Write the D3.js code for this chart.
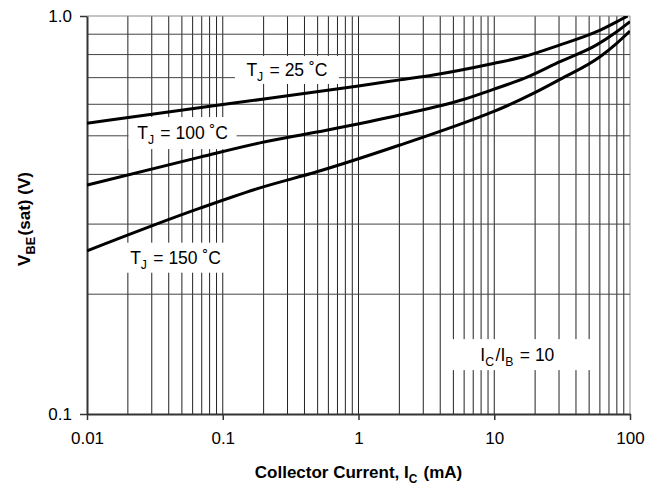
<!DOCTYPE html>
<html>
<head>
<meta charset="utf-8">
<script src="https://cdn.jsdelivr.net/npm/d3@7"></script>
<style>
  html, body { margin: 0; padding: 0; background: #fff; }
  svg { display: block; font-family: "Liberation Sans", Arial, sans-serif; }
</style>
</head>
<body>
<div id="chart"></div>
<script>
// VBE(sat) vs collector current, three junction temperatures

const xTickValues = [0.01, 0.1, 1, 10, 100];
const xTickLabels = ['0.01', '0.1', '1', '10', '100'];
const yTickValues = [0.1, 1.0];
const yTickLabels = ['0.1', '1.0'];

const current25 = [0.01, 0.1, 1, 2.02, 3.56, 9.84, 16.4, 30.5, 56.8, 84.4, 96];
const vbe25 = [0.538, 0.599, 0.667, 0.691, 0.711, 0.760, 0.790, 0.846, 0.913, 0.977, 1.0];

const current100 = [0.01, 0.068, 0.188, 0.494, 2.02, 5.92, 9.84, 17.3, 30.5, 56.8, 79.8, 100];
const vbe100 = [0.376, 0.442, 0.480, 0.511, 0.564, 0.617, 0.654, 0.701, 0.768, 0.846, 0.913, 0.968];

const current150 = [0.01, 0.068, 0.188, 0.494, 2.02, 7.85, 9.84, 19.4, 30.5, 60.1, 79.8, 100];
const vbe150 = [0.257, 0.329, 0.370, 0.406, 0.474, 0.558, 0.575, 0.639, 0.693, 0.790, 0.854, 0.917];

// annotation anchors in data units (mA, V)
const labelNames = ['25', '100', '150', 'ratio'];
const labelCurrent = [0.297, 0.0506, 0.0449, 14.8];
const labelVolt = [0.732, 0.508, 0.247, 0.141];

const W = 662, H = 493;
const margin = { top: 16, right: 32, bottom: 79, left: 87 };
const width = W - margin.left - margin.right;
const height = H - margin.top - margin.bottom;

const svg = d3.select('#chart').append('svg')
  .attr('width', W)
  .attr('height', H);

const g = svg.append('g')
  .attr('transform', `translate(${margin.left},${margin.top})`);

const x = d3.scaleLog().domain([0.01, 100]).range([0, width]);
const y = d3.scaleLog().domain([0.1, 1.0]).range([height, 0]);

// grid: minor decades 2..9
const xGrid = [];
[0.01, 0.1, 1, 10].forEach(dec => {
  for (let k = 1; k <= 9; k++) if (dec * k > 0.01) xGrid.push(dec * k);
});
xGrid.push(100);
const yGrid = d3.range(2, 11).map(k => k / 10);

g.append('g').selectAll('line')
  .data(xGrid)
  .enter().append('line')
  .attr('x1', d => x(d)).attr('x2', d => x(d))
  .attr('y1', 0).attr('y2', height)
  .attr('stroke', d => (d === 100 ? '#888' : '#222'))
  .attr('stroke-width', 1);

g.append('g').selectAll('line')
  .data(yGrid)
  .enter().append('line')
  .attr('x1', 0).attr('x2', width)
  .attr('y1', d => y(d)).attr('y2', d => y(d))
  .attr('stroke', d => (d === 1.0 ? '#888' : '#444'))
  .attr('stroke-width', 1);

// label boxes (white) that cut the grid
const boxSize = { '25': [104, 28], '100': [108, 32], '150': [108, 30], 'ratio': [150, 31] };
labelNames.forEach((n, i) => {
  const cx = x(labelCurrent[i]), cy = y(labelVolt[i]);
  const [bw, bh] = boxSize[n];
  g.append('rect')
    .attr('x', cx - bw / 2).attr('y', cy - bh / 2)
    .attr('width', bw).attr('height', bh)
    .attr('fill', '#fff');
});

// axes
const xAxis = d3.axisBottom(x)
  .tickValues(xTickValues)
  .tickFormat((d, i) => xTickLabels[i])
  .tickSizeInner(6).tickSizeOuter(0).tickPadding(12);
const yAxis = d3.axisLeft(y)
  .tickValues(yTickValues)
  .tickFormat((d, i) => yTickLabels[i])
  .tickSizeInner(7).tickSizeOuter(0).tickPadding(8);

const gx = g.append('g').attr('transform', `translate(0,${height})`).call(xAxis);
const gy = g.append('g').call(yAxis);
[gx, gy].forEach(a => {
  a.select('.domain').attr('stroke', '#333').attr('stroke-width', 2);
  a.selectAll('.tick line').attr('stroke', '#333').attr('stroke-width', 1.5);
  a.selectAll('.tick text')
    .attr('fill', '#000')
    .style('font-size', '17px')
    .style('font-family', '"Liberation Sans", Arial, sans-serif');
});

// curves
g.append('clipPath').attr('id', 'plot-clip')
  .append('rect').attr('x', 0).attr('y', 0).attr('width', width).attr('height', height);

const line = d3.line()
  .x(d => x(d[0]))
  .y(d => y(d[1]))
  .curve(d3.curveMonotoneX);

[[current25, vbe25], [current100, vbe100], [current150, vbe150]].forEach(([cs, vs]) => {
  g.append('path')
    .datum(cs.map((c, i) => [c, vs[i]]))
    .attr('d', line)
    .attr('fill', 'none')
    .attr('stroke', '#000')
    .attr('stroke-width', 3)
    .attr('clip-path', 'url(#plot-clip)');
});

// annotation texts
function subText(sel, parts, size, weight, subScale) {
  const s = subScale || 0.7;
  const t = sel.style('font-size', size + 'px').style('font-weight', weight || 'normal');
  parts.forEach(p => {
    if (p.sub) {
      t.append('tspan').attr('dy', size * 0.3).style('font-size', (size * s) + 'px').text(p.sub);
      t.append('tspan').attr('dy', -size * 0.3).text('\u200a');
    } else {
      t.append('tspan').text(p.t);
    }
  });
  return t;
}

const labelParts = {
  '25': [{ t: 'T' }, { sub: 'J' }, { t: ' = 25 \u02DAC' }],
  '100': [{ t: 'T' }, { sub: 'J' }, { t: ' = 100 \u02DAC' }],
  '150': [{ t: 'T' }, { sub: 'J' }, { t: ' = 150 \u02DAC' }],
  'ratio': [{ t: 'I' }, { sub: 'C' }, { t: '/I' }, { sub: 'B' }, { t: ' = 10' }]
};

labelNames.forEach((n, i) => {
  const tx = g.append('text')
    .attr('x', x(labelCurrent[i]))
    .attr('y', y(labelVolt[i]) + 6)
    .attr('text-anchor', 'middle')
    .attr('fill', '#000');
  subText(tx, labelParts[n], 17.5);
});

// axis titles
const xt = svg.append('text')
  .attr('x', margin.left + width / 2)
  .attr('y', 478)
  .attr('text-anchor', 'middle')
  .attr('fill', '#000');
subText(xt, [{ t: 'Collector Current, I' }, { sub: 'C' }, { t: ' (mA)' }], 17, 'bold');

const yt = svg.append('text')
  .attr('transform', 'translate(30,219) rotate(-90)')
  .attr('text-anchor', 'middle')
  .attr('fill', '#000');
subText(yt, [{ t: 'V' }, { sub: 'BE' }, { t: '(sat) (V)' }], 17, 'bold', 0.75);
</script>
</body>
</html>
